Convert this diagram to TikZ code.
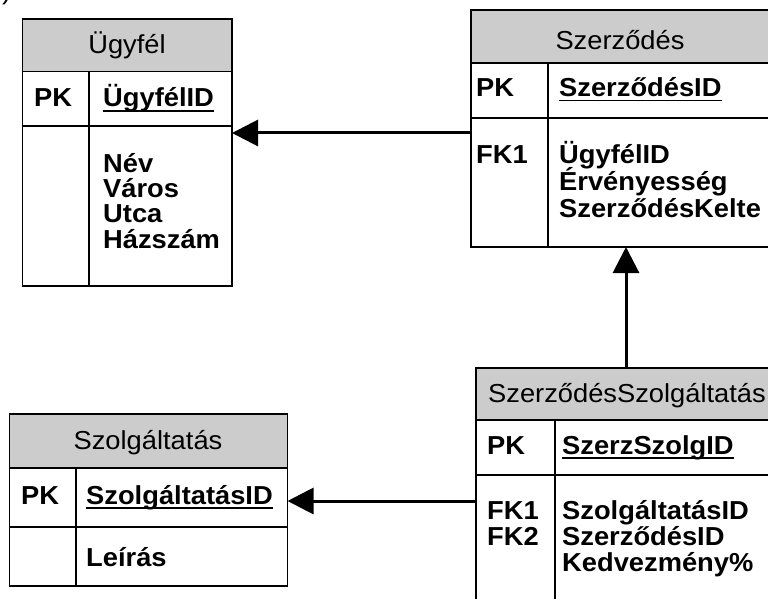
\documentclass[tikz,border=0pt]{standalone}
\usepackage{fontspec}
\setmainfont{Liberation Sans}[FakeStretch=1.05]
\usetikzlibrary{arrows.meta}
\definecolor{hdrgray}{HTML}{CCCCCC}
\newcommand\myul[1]{\setbox0\hbox{#1}\rlap{\rule[-4.5pt]{\wd0}{1.9pt}}\box0}
\begin{document}
\begin{tikzpicture}[x=1pt,y=-1pt,
  tbl/.style={draw,line width=1.8pt,inner sep=0pt,outer sep=0pt,anchor=north west},
  hdr/.style={fill=hdrgray},
  sep/.style={line width=1.8pt},
  htext/.style={inner sep=0pt,anchor=base,font=\fontsize{26}{24}\selectfont},
  ftext/.style={inner sep=0pt,anchor=base west,font=\fontsize{26}{24}\selectfont\bfseries},
  conn/.style={line width=3pt,-{Triangle[length=26pt,width=26pt]}}]
\useasboundingbox (0,0) rectangle (768,599);
% ---------- fills
\fill[hdr] (22.5,19) rectangle (232,71.5);
\fill[hdr] (471,10) rectangle (770,63);
\fill[hdr] (9.5,414) rectangle (287.5,468);
\fill[hdr] (476,368) rectangle (778,420);
% ---------- Ügyfél
\node[tbl,minimum width=209.5pt,minimum height=267pt] (ugyfel) at (22.5,19) {};
\draw[sep] (22.5,71.5) -- (232,71.5);
\draw[sep] (22.5,126) -- (232,126);
\draw[sep] (89,71.5) -- (89,286);
\node[htext] (ugyfelh) at (127,54) {Ügyfél};
\node[ftext] (ugyfelpk) at (34,107) {PK};
\node[ftext] (ugyfelid) at (103,107) {\myul{ÜgyfélID}};
\node[ftext] (ugyfelf1) at (103,172) {Név};
\node[ftext] (ugyfelf2) at (103,197) {Város};
\node[ftext] (ugyfelf3) at (103,222) {Utca};
\node[ftext] (ugyfelf4) at (103,248) {Házszám};
% ---------- Szerződés
\node[tbl,minimum width=299pt,minimum height=237pt] (szerzodes) at (471,10) {};
\draw[sep] (471,63) -- (770,63);
\draw[sep] (471,118) -- (770,118);
\draw[sep] (548,63) -- (548,247);
\node[htext] (szerzodesh) at (620,50) {Szerződés};
\node[ftext] (szerzodespk) at (476,97) {PK};
\node[ftext] (szerzodesid) at (559,97) {\myul{SzerződésID}};
\node[ftext] (szerzodesfk) at (476,163) {FK1};
\node[ftext] (szerzodesf1) at (559,163) {ÜgyfélID};
\node[ftext] (szerzodesf2) at (559,190) {Érvényesség};
\node[ftext] (szerzodesf3) at (559,217) {SzerződésKelte};
% ---------- Szolgáltatás
\node[tbl,minimum width=278pt,minimum height=172pt] (szolg) at (9.5,414) {};
\draw[sep] (9.5,468) -- (287.5,468);
\draw[sep] (9.5,527) -- (287.5,527);
\draw[sep] (76,468) -- (76,586);
\node[htext] (szolgh) at (148,449) {Szolgáltatás};
\node[ftext] (szolgpk) at (21,504) {PK};
\node[ftext] (szolgid) at (86,504) {\myul{SzolgáltatásID}};
\node[ftext] (szolgf) at (86,566) {Leírás};
% ---------- SzerződésSzolgáltatás
\node[tbl,minimum width=302pt,minimum height=260pt] (szsz) at (476,368) {};
\draw[sep] (476,420) -- (778,420);
\draw[sep] (476,475) -- (778,475);
\draw[sep] (555,420) -- (555,628);
\node[htext] (szszh) at (627,402) {SzerződésSzolgáltatás};
\node[ftext] (szszpk) at (487,454) {PK};
\node[ftext] (szszid) at (562,454) {\myul{SzerzSzolgID}};
\node[ftext] (szszfk1) at (487,519) {FK1};
\node[ftext] (szszfk2) at (487,545) {FK2};
\node[ftext] (szszf1) at (562,519) {SzolgáltatásID};
\node[ftext] (szszf2) at (562,545) {SzerződésID};
\node[ftext] (szszf3) at (562,571) {Kedvezmény\%};
% ---------- cropped label
\node[inner sep=0pt,anchor=base west,font=\fontsize{26}{24}\selectfont] (lbl) at (2,0) {)};
% ---------- connectors
\coordinate (y1) at (0,133);
\coordinate (x2) at (626,0);
\coordinate (y3) at (0,501);
\draw[conn] (szerzodes.west |- y1) -- (ugyfel.east |- y1);
\draw[conn] (szsz.north -| x2) -- (szerzodes.south -| x2);
\draw[conn] (szsz.west |- y3) -- (szolg.east |- y3);
\end{tikzpicture}
\end{document}
